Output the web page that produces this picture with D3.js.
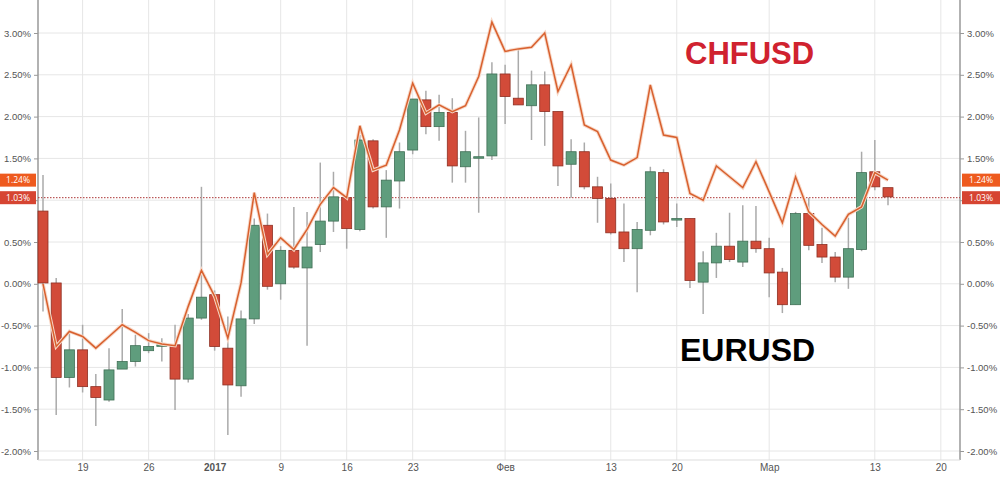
<!DOCTYPE html>
<html><head><meta charset="utf-8">
<script src="https://cdn.jsdelivr.net/npm/d3@7"></script>
<style>body{margin:0;background:#fff;font-family:"Open Sans",Arial,sans-serif}</style>
</head><body><svg id="c" width="1000" height="477"></svg>
<script>
const openV=[0.87,0.01,-1.12,-0.79,-1.23,-1.39,-1.02,-0.93,-0.80,-0.73,-0.73,-1.14,-0.41,-0.13,-0.77,-1.22,-0.42,0.70,0.00,0.40,0.19,0.47,0.75,1.03,0.65,1.71,0.92,1.23,1.60,2.20,1.88,2.05,1.40,1.52,1.53,2.51,2.22,2.13,2.38,2.06,1.43,1.58,1.16,1.02,0.62,0.42,0.64,1.33,0.78,0.78,0.02,0.25,0.45,0.26,0.51,0.42,0.14,-0.25,0.84,0.47,0.32,0.08,0.41,1.34,1.15];
const closeV=[0.01,-1.12,-0.79,-1.23,-1.36,-1.03,-0.93,-0.74,-0.75,-0.73,-1.14,-0.41,-0.16,-0.75,-1.21,-0.42,0.70,-0.03,0.40,0.20,0.44,0.75,1.04,0.66,1.72,0.92,1.24,1.58,2.21,1.88,2.05,1.41,1.58,1.52,2.51,2.24,2.14,2.38,2.06,1.41,1.58,1.16,1.02,0.61,0.42,0.65,1.34,0.74,0.78,0.04,0.25,0.45,0.29,0.51,0.42,0.13,-0.25,0.84,0.46,0.32,0.08,0.42,1.33,1.16,1.04];
const highV=[1.30,0.07,-0.55,-0.49,-1.08,-0.77,-0.30,-0.61,-0.59,-0.65,-0.49,-0.36,1.16,-0.08,-0.39,-0.32,0.78,0.84,0.45,0.92,0.86,1.45,1.34,1.03,1.78,1.73,1.36,1.69,2.21,2.31,2.26,2.22,1.83,1.99,2.65,2.62,2.80,2.55,2.54,2.06,1.73,1.69,1.28,1.20,0.96,0.74,1.40,1.37,0.96,0.78,0.39,0.61,0.85,0.94,0.93,0.55,0.19,0.86,1.03,0.67,0.38,0.79,1.58,1.72,1.15];
const lowV=[-0.33,-1.57,-1.24,-1.30,-1.70,-1.41,-1.02,-0.99,-0.83,-0.93,-1.51,-1.18,-0.43,-0.80,-1.81,-1.35,-0.48,-0.07,-0.19,0.18,-0.74,0.38,0.62,0.42,0.63,0.90,0.55,0.90,1.55,1.79,1.71,1.21,1.21,0.85,1.48,1.91,2.14,1.72,1.65,1.17,1.03,1.13,0.73,0.59,0.26,-0.10,0.58,0.71,0.68,-0.05,-0.36,0.07,0.26,0.20,0.37,-0.16,-0.35,-0.25,0.40,0.25,0.02,-0.06,0.39,1.12,0.94];
const chfV=[0.00,-0.75,-0.57,-0.63,-0.77,-0.63,-0.49,-0.58,-0.68,-0.72,-0.74,-0.27,0.16,-0.15,-0.65,0.01,1.09,0.35,0.55,0.41,0.65,0.95,1.15,1.03,1.89,1.36,1.42,1.84,2.40,2.04,2.14,2.06,2.13,2.48,3.13,2.78,2.81,2.83,3.00,2.30,2.62,1.90,1.82,1.48,1.42,1.51,2.38,1.78,1.75,1.08,1.00,1.41,1.28,1.15,1.46,1.10,0.73,1.28,0.86,0.71,0.57,0.83,0.92,1.33,1.24];
const xTickIdx=[3,8,13,18,23,28,35,43,48,55,63,68];
const xTickLabels=["19","26","2017","9","16","23","Фев","13","20","Мар","13","20"];
const yTicks=[3,2.5,2,1.5,1,0.5,0,-0.5,-1,-1.5,-2];
const lastEUR=1.03, lastCHF=1.24;

const svg=d3.select("#c");
const L=38,R=960;
const x=d3.scaleLinear().domain([0,64]).range([43,888]);
const y=d3.scaleLinear().domain([-2,3]).range([451,33]);
const fmt=v=>v.toFixed(2)+"%";
const g=svg.append("g");
g.selectAll(".hg").data(yTicks).join("line").attr("x1",L).attr("x2",R)
 .attr("y1",d=>y(d)).attr("y2",d=>y(d)).attr("stroke","#e6e6e6");
g.selectAll(".vg").data(xTickIdx).join("line").attr("y1",0).attr("y2",460)
 .attr("x1",d=>x(d)).attr("x2",d=>x(d)).attr("stroke","#e6e6e6");
[L,R].forEach(px=>g.append("line").attr("x1",px).attr("x2",px).attr("y1",0).attr("y2",460).attr("stroke","#999").attr("stroke-width",1.5));
g.append("line").attr("x1",L).attr("x2",R).attr("y1",460).attr("y2",460).attr("stroke","#ddd");
const yl=d3.axisLeft(y).tickValues(yTicks).tickFormat(fmt).tickSize(4);
const yr=d3.axisRight(y).tickValues(yTicks).tickFormat(fmt).tickSize(4);
[[yl,L],[yr,R]].forEach(([a,px])=>{
 const ag=svg.append("g").attr("transform",`translate(${px},0)`).call(a);
 ag.select(".domain").remove();
 ag.selectAll("line").attr("stroke","#999");
 ag.selectAll("text").attr("fill","#555").attr("font-size",9.5);
});
const xa=svg.append("g").attr("transform","translate(0,460)").call(d3.axisBottom(x).tickValues(xTickIdx).tickFormat((d,i)=>xTickLabels[i]).tickSize(0).tickPadding(4));
xa.select(".domain").remove();
xa.selectAll("text").attr("fill","#555").attr("font-size",10).attr("font-weight",(d,i)=>xTickLabels[i]==="2017"?"bold":"normal");
svg.append("line").attr("x1",L).attr("x2",R).attr("y1",y(lastEUR)).attr("y2",y(lastEUR)).attr("stroke","#a33").attr("stroke-dasharray","1.5,1.5");
const idx=d3.range(openV.length);
const cg=svg.append("g");
const bw=10;
idx.forEach(i=>{
 const up=closeV[i]>=openV[i];
 const fill=up?"#5f9d7d":"#d24b39", stroke=up?"#3f6f55":"#8e2f22";
 cg.append("line").attr("x1",x(i)).attr("x2",x(i)).attr("y1",y(highV[i])).attr("y2",y(lowV[i])).attr("stroke","#aaa").attr("stroke-width",1.5);
 const t=y(Math.max(openV[i],closeV[i])), b=y(Math.min(openV[i],closeV[i]));
 cg.append("rect").attr("x",x(i)-bw/2).attr("width",bw).attr("y",t).attr("height",Math.max(1.5,b-t)).attr("fill",fill).attr("stroke",stroke).attr("stroke-width",0.8);
});
const ln=d3.line().x((d,i)=>x(i)).y(d=>y(d));
svg.append("path").datum(chfV).attr("fill","none").attr("stroke","#f7d8c8").attr("stroke-width",3.5).attr("d",ln);
svg.append("path").datum(chfV).attr("fill","none").attr("stroke","#d8602e").attr("stroke-width",1.5).attr("d",ln);
[[lastCHF,"#ee5a1e"],[lastEUR,"#d64532"]].forEach(([v,c])=>{
 [[0,36],[962,38]].forEach(([px,w])=>{
  svg.append("rect").attr("x",px).attr("y",y(v)-6.5).attr("width",w).attr("height",13).attr("fill",c);
  svg.append("text").attr("x",px+w/2).attr("y",y(v)+3).attr("text-anchor","middle").attr("fill","#fff").attr("font-size",8.5).text(fmt(v));
 });
});
svg.append("text").attr("x",685).attr("y",64).attr("font-family","Liberation Sans, Arial").attr("font-weight","bold").attr("font-size",31).attr("fill","#d0222f").text("CHFUSD");
svg.append("text").attr("x",680).attr("y",361).attr("font-family","Liberation Sans, Arial").attr("font-weight","bold").attr("font-size",32).attr("fill","#000").text("EURUSD");
</script></body></html>
